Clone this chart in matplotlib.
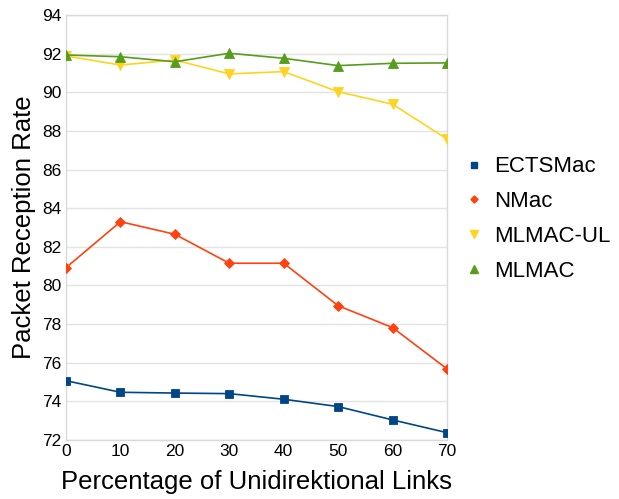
import matplotlib.pyplot as plt

plt.rcParams['font.family'] = ['Liberation Sans', 'DejaVu Sans']

x = [0, 10, 20, 30, 40, 50, 60, 70]
ectsmac = [75.07, 74.47, 74.43, 74.40, 74.11, 73.73, 73.04, 72.38]
nmac = [80.92, 83.30, 82.65, 81.15, 81.15, 78.95, 77.82, 75.68]
mlmac_ul = [91.88, 91.41, 91.67, 90.95, 91.07, 90.03, 89.38, 87.58]
mlmac = [91.93, 91.84, 91.58, 92.02, 91.76, 91.38, 91.50, 91.52]

series = [
    ('ECTSMac', ectsmac, '#004586', 's', 6),
    ('NMac', nmac, '#ff420e', 'D', 4.8),
    ('MLMAC-UL', mlmac_ul, '#ffd320', 'v', 7.5),
    ('MLMAC', mlmac, '#579d1c', '^', 7.5),
]

fig = plt.figure(figsize=(6.19, 4.99), dpi=100)
ax = fig.add_axes([66 / 619, 1 - 440 / 499, 381 / 619, 425 / 499])

for name, vals, col, mk, ms in series:
    ax.plot(x, vals, color=col, lw=1.2, marker=mk, markersize=ms,
            markeredgecolor=col, markeredgewidth=0.6, label=name, zorder=3)

ax.set_xlim(0, 70)
ax.set_ylim(72, 94)
ax.set_xticks(x)
ax.set_yticks(range(72, 95, 2))
ax.grid(axis='y', color='#e3e3e3', lw=1)
for s in ax.spines.values():
    s.set_color('#d9d9d9')
    s.set_linewidth(1)
ax.tick_params(length=0, labelsize=12.5, pad=3)
ax.set_xlabel('Percentage of Unidirektional Links', fontsize=18.5, labelpad=8)
ax.set_ylabel('Packet Reception Rate', fontsize=18.5, labelpad=5)

handles = [plt.Line2D([], [], ls='none', marker=mk, color=col, markersize=ms * 0.75)
           for name, vals, col, mk, ms in series]
fig.legend(handles, [s[0] for s in series], loc='center left',
           bbox_to_anchor=(466 / 619, 1 - 219 / 499), frameon=False,
           borderpad=0, borderaxespad=0,
           fontsize=16, handlelength=0.7, handletextpad=0.55, labelspacing=0.62)

fig.savefig('out.png', dpi=100, facecolor='white')
